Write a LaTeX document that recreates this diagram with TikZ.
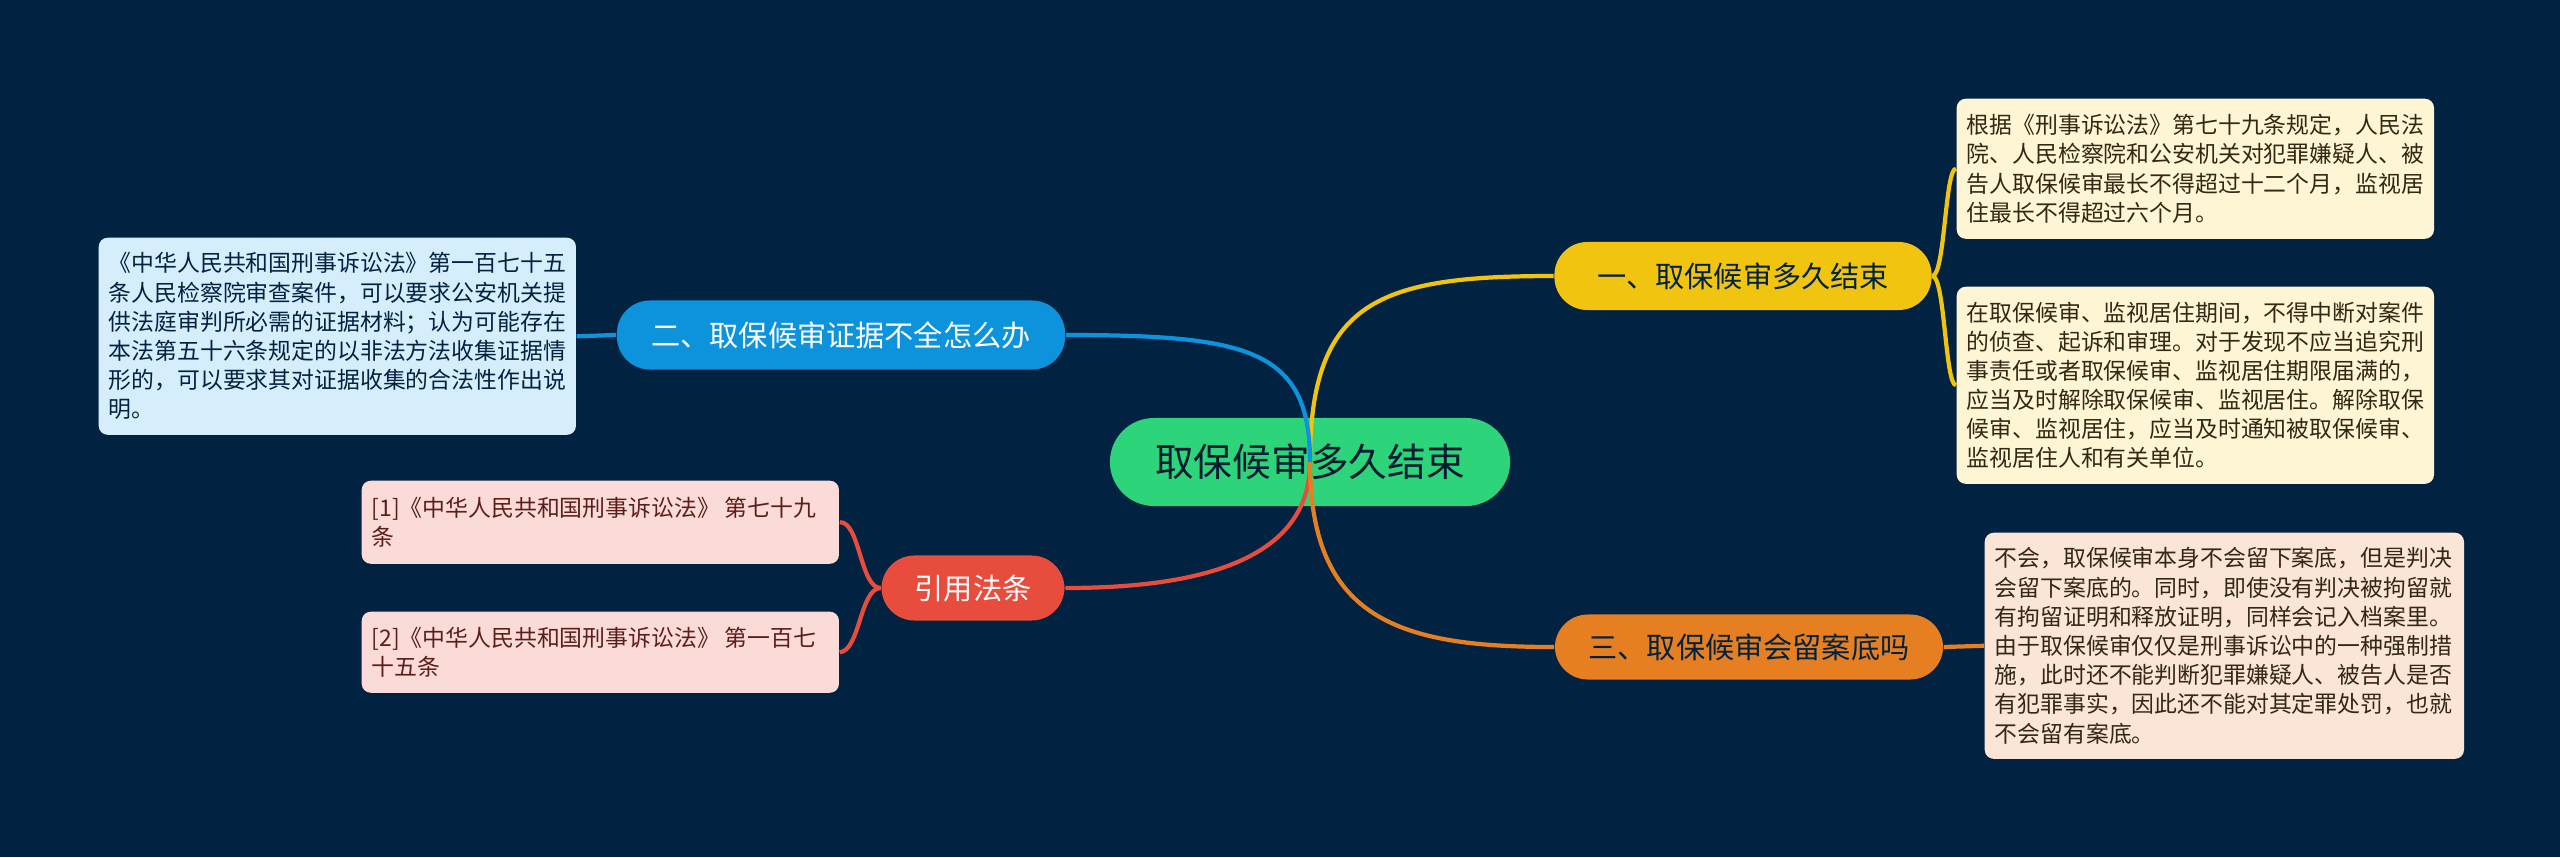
\documentclass[tikz,border=0pt]{standalone}
\usepackage{fontspec}
\setmainfont{Noto Sans CJK SC}
\usetikzlibrary{positioning}
\definecolor{bgnavy}{RGB}{1,34,64}
\definecolor{rootgreen}{RGB}{46,212,122}
\definecolor{oneyellow}{RGB}{241,196,15}
\definecolor{twoblue}{RGB}{12,147,219}
\definecolor{lawred}{RGB}{231,76,60}
\definecolor{threeorange}{RGB}{230,126,34}
\definecolor{leafyellow}{RGB}{253,245,212}
\definecolor{leafblue}{RGB}{214,238,251}
\definecolor{leafpink}{RGB}{250,219,216}
\definecolor{leafpeach}{RGB}{251,229,214}
\definecolor{leaftext}{RGB}{50,40,20}

\begin{document}
\begin{tikzpicture}[x=0.01cm,y=-0.01cm,
    branch/.style={rounded corners=0.33cm, font=\fontsize{8.3}{10}\selectfont, inner sep=0pt},
    leaf/.style={rounded corners=0.09cm, font=\fontsize{6.5}{8.3}\selectfont, align=left, anchor=north west, inner sep=0pt, text=leaftext},
    link/.style={line width=1.2pt}]
    % Background
    \fill[bgnavy] (0,0) rectangle (2560,857);
    \useasboundingbox (0,0) rectangle (2560,857);

    % Root and branches
    \node[branch, fill=rootgreen, minimum width=4cm, minimum height=0.88cm, rounded corners=0.44cm, font=\fontsize{11}{13}\selectfont, text=bgnavy!80!black] (root) at (1310,462) {取保候审多久结束};
    \node[branch, fill=oneyellow, minimum width=3.77cm, minimum height=0.68cm, text=bgnavy] (one) at (1743,276) {一、取保候审多久结束};
    \node[branch, fill=twoblue, minimum width=4.48cm, minimum height=0.69cm, text=white] (two) at (841,335) {二、取保候审证据不全怎么办};
    \node[branch, fill=lawred, minimum width=1.83cm, minimum height=0.65cm, text=white] (law) at (973,588) {引用法条};
    \node[branch, fill=threeorange, minimum width=3.88cm, minimum height=0.65cm, text=bgnavy] (three) at (1749,647) {三、取保候审会留案底吗};

    % Leaves
    \node[leaf, fill=leafyellow, minimum width=4.77cm, minimum height=1.4cm] (oneA) at (1956,98) {};
    \node[leaf, anchor=west] at ([xshift=0.1cm]oneA.west) {根据《刑事诉讼法》第七十九条规定，人民法\\院、人民检察院和公安机关对犯罪嫌疑人、被\\告人取保候审最长不得超过十二个月，监视居\\住最长不得超过六个月。};
    \node[leaf, fill=leafyellow, minimum width=4.77cm, minimum height=1.97cm] (oneB) at (1956,286) {};
    \node[leaf, anchor=west] at ([xshift=0.1cm]oneB.west) {在取保候审、监视居住期间，不得中断对案件\\的侦查、起诉和审理。对于发现不应当追究刑\\事责任或者取保候审、监视居住期限届满的，\\应当及时解除取保候审、监视居住。解除取保\\候审、监视居住，应当及时通知被取保候审、\\监视居住人和有关单位。};
    \node[leaf, fill=leafpeach, minimum width=4.79cm, minimum height=2.26cm] (threeA) at (1984,532) {};
    \node[leaf, anchor=west] at ([xshift=0.1cm]threeA.west) {不会，取保候审本身不会留下案底，但是判决\\会留下案底的。同时，即使没有判决被拘留就\\有拘留证明和释放证明，同样会记入档案里。\\由于取保候审仅仅是刑事诉讼中的一种强制措\\施，此时还不能判断犯罪嫌疑人、被告人是否\\有犯罪事实，因此还不能对其定罪处罚，也就\\不会留有案底。};
    \node[leaf, fill=leafblue, minimum width=4.77cm, minimum height=1.97cm] (twoA) at (98,237) {};
    \node[leaf, anchor=west, text=bgnavy] at ([xshift=0.1cm]twoA.west) {《中华人民共和国刑事诉讼法》第一百七十五\\条人民检察院审查案件，可以要求公安机关提\\供法庭审判所必需的证据材料；认为可能存在\\本法第五十六条规定的以非法方法收集证据情\\形的，可以要求其对证据收集的合法性作出说\\明。};
    \node[leaf, fill=leafpink, minimum width=4.77cm, minimum height=0.83cm] (lawA) at (361,480) {};
    \node[leaf, anchor=west, text=lawred!40!black] at ([xshift=0.1cm]lawA.west) {[1]《中华人民共和国刑事诉讼法》 第七十九\\条};
    \node[leaf, fill=leafpink, minimum width=4.77cm, minimum height=0.81cm] (lawB) at (361,611) {};
    \node[leaf, anchor=west, text=lawred!40!black] at ([xshift=0.1cm]lawB.west) {[2]《中华人民共和国刑事诉讼法》 第一百七\\十五条};

    % Root links
    \draw[link, oneyellow] (root.center) .. controls (1310,300) and (1380,276) .. (one.west);
    \draw[link, twoblue] (root.center) .. controls (1310,350) and (1250,335) .. (two.east);
    \draw[link, lawred] (root.center) .. controls (1310,560) and (1200,588) .. (law.east);
    \draw[link, threeorange] (root.center) .. controls (1310,620) and (1400,647) .. (three.west);

    % Leaf links
    \draw[link, oneyellow] (one.east) .. controls (1945,276) and (1945,168) .. (oneA.west);
    \draw[link, oneyellow] (one.east) .. controls (1945,276) and (1945,385) .. (oneB.west);
    \draw[link, threeorange] (three.east) -- (threeA.west);
    \draw[link, twoblue] (two.west) -- (twoA.east);
    \draw[link, lawred] (law.west) .. controls (860,588) and (860,521) .. (lawA.east);
    \draw[link, lawred] (law.west) .. controls (860,588) and (860,651) .. (lawB.east);
\end{tikzpicture}
\end{document}
